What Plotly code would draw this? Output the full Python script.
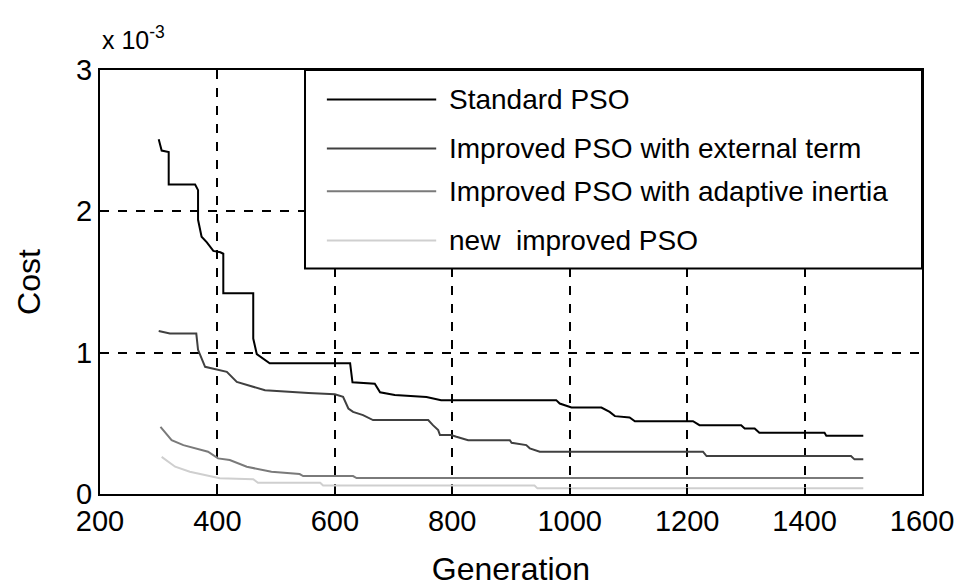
import plotly.graph_objects as go

series_names = ["Standard PSO", "Improved PSO with external term",
                "Improved PSO with adaptive inertia", "new  improved PSO"]
series_colors = ["#000000", "#404040", "#7a7a7a", "#cfcfcf"]

std_x = [300, 305, 317, 317, 362, 367, 367, 373, 382, 393, 405, 410, 410, 461, 461, 467, 489, 626, 630, 668, 677, 702, 756, 781, 977, 983, 1003, 1054, 1068, 1077, 1102, 1111, 1210, 1221, 1292, 1298, 1315, 1323, 1434, 1437, 1500]
std_y = [2.51, 2.43, 2.42, 2.19, 2.19, 2.15, 1.94, 1.82, 1.78, 1.72, 1.71, 1.70, 1.42, 1.42, 1.10, 0.99, 0.925, 0.925, 0.79, 0.78, 0.72, 0.70, 0.687, 0.664, 0.664, 0.64, 0.612, 0.612, 0.581, 0.551, 0.542, 0.515, 0.515, 0.487, 0.487, 0.464, 0.464, 0.433, 0.433, 0.412, 0.412]

ext_x = [300, 319, 364, 367, 379, 401, 416, 433, 452, 481, 555, 600, 614, 623, 631, 648, 665, 759, 767, 776, 779, 798, 807, 827, 898, 901, 926, 932, 949, 1227, 1233, 1479, 1485, 1500]
ext_y = [1.153, 1.135, 1.135, 1.02, 0.90, 0.876, 0.864, 0.793, 0.77, 0.734, 0.715, 0.706, 0.687, 0.605, 0.581, 0.558, 0.523, 0.523, 0.487, 0.452, 0.417, 0.417, 0.405, 0.381, 0.381, 0.362, 0.346, 0.323, 0.299, 0.299, 0.268, 0.268, 0.245, 0.245]

ada_x = [303, 322, 342, 365, 384, 401, 421, 450, 492, 540, 546, 631, 637, 1500]
ada_y = [0.475, 0.381, 0.346, 0.318, 0.299, 0.252, 0.24, 0.193, 0.157, 0.141, 0.127, 0.127, 0.113, 0.113]

new_x = [305, 328, 353, 376, 404, 461, 469, 575, 580, 940, 945, 1500]
new_y = [0.263, 0.193, 0.157, 0.134, 0.111, 0.104, 0.08, 0.08, 0.06, 0.06, 0.04, 0.04]

x_ticks = [200, 400, 600, 800, 1000, 1200, 1400, 1600]
y_ticks = [0, 1, 2, 3]

all_x = [std_x, ext_x, ada_x, new_x]
all_y = [std_y, ext_y, ada_y, new_y]

fig = go.Figure()
for name, color, xs, ys in zip(series_names, series_colors, all_x, all_y):
    fig.add_trace(go.Scatter(x=xs, y=ys, mode="lines", name=name,
                             line=dict(color=color, width=2), showlegend=False))

font_family = "Liberation Sans, Arial, sans-serif"
axis_common = dict(showline=True, linecolor="black", linewidth=2, mirror=True,
                   ticks="inside", ticklen=6, tickcolor="black", tickwidth=1.5,
                   showgrid=True, gridcolor="black", griddash="dash", gridwidth=2,
                   zeroline=False, automargin=False,
                   tickfont=dict(size=29, color="black", family=font_family))

fig.update_xaxes(range=[200, 1600], tickvals=x_ticks,
                 title=dict(text="Generation", font=dict(size=32, color="black", family=font_family), standoff=22),
                 **axis_common)
fig.update_yaxes(range=[0, 3], tickvals=y_ticks,
                 title=dict(text="Cost", font=dict(size=32, color="black", family=font_family), standoff=26),
                 **axis_common)

# custom legend box
lx0, lx1 = 0.2494, 1.0
ly0, ly1 = 0.532, 1.0
fig.add_shape(type="rect", xref="paper", yref="paper", x0=lx0, x1=lx1, y0=ly0, y1=ly1,
              line=dict(color="black", width=2), fillcolor="white", layer="above")
row_y = [0.9305, 0.815, 0.7138, 0.598]
for name, color, ry in zip(series_names, series_colors, row_y):
    fig.add_shape(type="line", xref="paper", yref="paper", x0=0.276, x1=0.409, y0=ry, y1=ry,
                  line=dict(color=color, width=2), layer="above")
    fig.add_annotation(xref="paper", yref="paper", x=0.422, y=ry, text=name, showarrow=False,
                       xanchor="left", yanchor="middle",
                       font=dict(size=28, color="black", family=font_family))

fig.add_annotation(xref="paper", yref="paper", x=0.0, y=1.0, yshift=14,
                   text="x 10<sup>-3</sup>", showarrow=False, xanchor="left", yanchor="bottom",
                   font=dict(size=25, color="black", family=font_family))

# page body has an 8px margin; size the figure to fit the window
fig.update_layout(width=955, height=580, plot_bgcolor="white", paper_bgcolor="white",
                  margin=dict(l=92, r=41, t=62, b=94), showlegend=False)

fig.write_html("out.html")
